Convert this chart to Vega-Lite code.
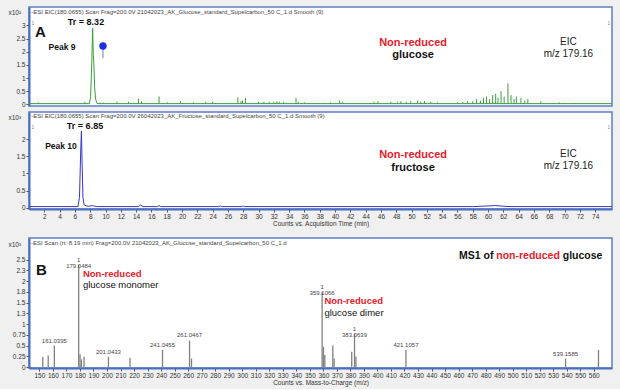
{
  "$schema": "https://vega.github.io/schema/vega-lite/v6.json",
  "background": "#f0f0f0",
  "padding": {"left": 7, "top": 6, "right": 6, "bottom": 2},
  "config": {
    "font": "Liberation Sans",
    "view": {"stroke": "#5b7fc7", "strokeWidth": 1.5, "fill": "white"},
    "axis": {"labelFont": "Liberation Sans", "labelFontSize": 6.5, "labelColor": "#333", "tickColor": "#555", "tickSize": 3, "labelPadding": 1, "domainColor": "#4a6fc0", "domainWidth": 2, "grid": false, "titleFont": "Liberation Sans", "titleFontSize": 6.5, "titleFontWeight": "normal", "titleColor": "#333", "titlePadding": 1, "format": "~r"},
    "text": {"font": "Liberation Sans"}
  },
  "spacing": 9,
  "vconcat": [
    {
      "spacing": 2,
      "vconcat": [
        {
          "width": 583,
          "height": 99,
          "encoding": {
            "x": {"field": "t", "type": "quantitative", "scale": {"domain": [0, 76.2], "nice": false, "zero": false}, "axis": null},
            "y": {"field": "v", "type": "quantitative", "scale": {"domain": [-0.06, 3.7], "nice": false, "zero": false}, "axis": {"values": [0, 0.5, 1, 1.5, 2, 2.5, 3], "title": "x10²", "titleAngle": 0, "titleX": -21, "titleY": 5, "titleAlign": "left", "titleBaseline": "middle"}}
          },
          "layer": [
            {
              "data": {"values": [{"t": 0.3, "v": 3.51, "label": "-ESI EIC(180.0655) Scan Frag=200.0V 21042023_AK_Glucose_standard_Supelcarbon_50 C_1.d  Smooth (9)"}]},
              "mark": {"type": "text", "align": "left", "baseline": "middle", "fontSize": 6, "color": "#444"},
              "encoding": {"text": {"field": "label"}}
            },
            {
              "data": {"values": [{"t": 0.52, "v": 3.08, "label": "1"}, {"t": 75.8, "v": 3.08, "label": "1"}]},
              "mark": {"type": "text", "align": "center", "baseline": "middle", "fontSize": 5, "color": "#888"},
              "encoding": {"text": {"field": "label"}}
            },
            {
              "data": {"values": [
                {"t": 1.2, "v": 0.08}, {"t": 7.3, "v": 0.1}, {"t": 9.3, "v": 0.07}, {"t": 9.7, "v": 0.07}, {"t": 11.5, "v": 0.1}, {"t": 13.0, "v": 0.1}, {"t": 14.3, "v": 0.22}, {"t": 14.7, "v": 0.12}, {"t": 17.0, "v": 0.3}, {"t": 18.1, "v": 0.08}, {"t": 19.8, "v": 0.12}, {"t": 20.1, "v": 0.06}, {"t": 21.5, "v": 0.08}, {"t": 23.1, "v": 0.1}, {"t": 24.0, "v": 0.1}, {"t": 27.3, "v": 0.26}, {"t": 27.7, "v": 0.12}, {"t": 27.9, "v": 0.15}, {"t": 28.3, "v": 0.25}, {"t": 30.0, "v": 0.1}, {"t": 30.7, "v": 0.1}, {"t": 31.4, "v": 0.1}, {"t": 32.0, "v": 0.1}, {"t": 32.4, "v": 0.12}, {"t": 32.7, "v": 0.1}, {"t": 33.3, "v": 0.1}, {"t": 34.9, "v": 0.25}, {"t": 35.2, "v": 0.1}, {"t": 36.0, "v": 0.08},
                {"t": 37.3, "v": 0.06}, {"t": 37.9, "v": 0.05}, {"t": 38.6, "v": 0.06}, {"t": 39.4, "v": 0.08}, {"t": 40.6, "v": 0.15}, {"t": 41.0, "v": 0.1}, {"t": 42.5, "v": 0.05}, {"t": 44.5, "v": 0.06}, {"t": 45.1, "v": 0.1}, {"t": 45.6, "v": 0.12}, {"t": 47.3, "v": 0.1}, {"t": 48.2, "v": 0.1}, {"t": 48.6, "v": 0.12}, {"t": 49.3, "v": 0.1}, {"t": 49.9, "v": 0.12}, {"t": 50.8, "v": 0.15}, {"t": 51.2, "v": 0.1}, {"t": 51.7, "v": 0.13}, {"t": 52.5, "v": 0.1}, {"t": 53.4, "v": 0.08}, {"t": 54.7, "v": 0.05}, {"t": 56.0, "v": 0.08}, {"t": 56.7, "v": 0.1}, {"t": 57.3, "v": 0.12}, {"t": 58.0, "v": 0.12}, {"t": 58.5, "v": 0.2}, {"t": 59.0, "v": 0.15}, {"t": 59.4, "v": 0.25}, {"t": 59.8, "v": 0.3}, {"t": 60.2, "v": 0.2}, {"t": 60.6, "v": 0.35}, {"t": 61.0, "v": 0.4}, {"t": 61.3, "v": 0.25}, {"t": 61.7, "v": 0.5}, {"t": 62.1, "v": 0.3}, {"t": 62.6, "v": 0.8}, {"t": 63.0, "v": 0.35}, {"t": 63.4, "v": 0.2}, {"t": 63.7, "v": 0.3}, {"t": 64.3, "v": 0.25}, {"t": 64.8, "v": 0.15}, {"t": 65.2, "v": 0.2}, {"t": 66.9, "v": 0.12}, {"t": 69.3, "v": 0.08}, {"t": 70.0, "v": 0.06}, {"t": 71.3, "v": 0.06}, {"t": 73.0, "v": 0.05}
              ]},
              "mark": {"type": "rule", "color": "#3a9d3a", "strokeWidth": 1},
              "encoding": {"y2": {"datum": 0.03}}
            },
            {
              "data": {"values": [
                {"t": 0, "v": 0.03}, {"t": 7.9, "v": 0.03}, {"t": 8.05, "v": 0.3}, {"t": 8.2, "v": 1.5}, {"t": 8.32, "v": 2.9}, {"t": 8.4, "v": 1.9}, {"t": 8.47, "v": 1.6}, {"t": 8.57, "v": 0.7}, {"t": 8.7, "v": 0.2}, {"t": 8.9, "v": 0.03}, {"t": 76.2, "v": 0.03}
              ]},
              "mark": {"type": "line", "color": "#3a9d3a", "strokeWidth": 1}
            },
            {
              "data": {"values": [{"t": 9.67, "v": 2.22, "v2": 1.76}]},
              "mark": {"type": "rule", "color": "#6a7fb0", "strokeWidth": 1},
              "encoding": {"y2": {"field": "v2"}}
            },
            {
              "data": {"values": [{"t": 9.67, "v": 2.22}]},
              "mark": {"type": "point", "filled": true, "color": "#1f2fe0", "size": 55, "opacity": 1}
            },
            {
              "data": {"values": [{"t": 0.78, "v": 2.75, "label": "A"}]},
              "mark": {"type": "text", "align": "left", "baseline": "middle", "fontSize": 15, "fontWeight": "bold", "color": "#111"},
              "encoding": {"text": {"field": "label"}}
            },
            {
              "data": {"values": [{"t": 7.45, "v": 3.13, "label": "Tr = 8.32"}]},
              "mark": {"type": "text", "align": "center", "baseline": "middle", "fontSize": 9, "fontWeight": "bold", "color": "#111"},
              "encoding": {"text": {"field": "label"}}
            },
            {
              "data": {"values": [{"t": 4.31, "v": 2.18, "label": "Peak 9"}]},
              "mark": {"type": "text", "align": "center", "baseline": "middle", "fontSize": 8.5, "fontWeight": "bold", "color": "#111"},
              "encoding": {"text": {"field": "label"}}
            },
            {
              "data": {"values": [{"t": 50.2, "v": 2.33, "label": "Non-reduced"}]},
              "mark": {"type": "text", "align": "center", "baseline": "middle", "fontSize": 11, "fontWeight": "bold", "color": "#e8202a"},
              "encoding": {"text": {"field": "label"}}
            },
            {
              "data": {"values": [{"t": 50.2, "v": 1.86, "label": "glucose"}]},
              "mark": {"type": "text", "align": "center", "baseline": "middle", "fontSize": 11, "fontWeight": "bold", "color": "#111"},
              "encoding": {"text": {"field": "label"}}
            },
            {
              "data": {"values": [{"t": 70.5, "v": 2.37, "label": "EIC"}, {"t": 70.5, "v": 1.92, "label": "m/z 179.16"}]},
              "mark": {"type": "text", "align": "center", "baseline": "middle", "fontSize": 10, "color": "#222"},
              "encoding": {"text": {"field": "label"}}
            }
          ]
        },
        {
          "width": 583,
          "height": 97,
          "encoding": {
            "x": {"field": "t", "type": "quantitative", "scale": {"domain": [0, 76.2], "nice": false, "zero": false}, "axis": {"values": [2, 4, 6, 8, 10, 12, 14, 16, 18, 20, 22, 24, 26, 28, 30, 32, 34, 36, 38, 40, 42, 44, 46, 48, 50, 52, 54, 56, 58, 60, 62, 64, 66, 68, 70, 72, 74], "title": "Counts vs. Acquisition Time (min)"}},
            "y": {"field": "v", "type": "quantitative", "scale": {"domain": [-0.04, 2.8], "nice": false, "zero": false}, "axis": {"values": [0, 0.5, 1, 1.5, 2], "title": "x10³", "titleAngle": 0, "titleX": -21, "titleY": 5, "titleAlign": "left", "titleBaseline": "middle"}}
          },
          "layer": [
            {
              "data": {"values": [{"t": 0.3, "v": 2.68, "label": "-ESI EIC(180.0655) Scan Frag=200.0V 26042023_AK_Fructose_standard_Supelcarbon_50 C_1.d  Smooth (9)"}]},
              "mark": {"type": "text", "align": "left", "baseline": "middle", "fontSize": 6, "color": "#444"},
              "encoding": {"text": {"field": "label"}}
            },
            {
              "data": {"values": [{"t": 0.52, "v": 2.36, "label": "1"}, {"t": 75.8, "v": 2.36, "label": "1"}]},
              "mark": {"type": "text", "align": "center", "baseline": "middle", "fontSize": 5, "color": "#888"},
              "encoding": {"text": {"field": "label"}}
            },
            {
              "data": {"values": [
                {"t": 0, "v": 0.03}, {"t": 6.4, "v": 0.03}, {"t": 6.6, "v": 0.3}, {"t": 6.75, "v": 1.6}, {"t": 6.85, "v": 2.24}, {"t": 6.95, "v": 1.2}, {"t": 7.05, "v": 0.3}, {"t": 7.2, "v": 0.08}, {"t": 7.5, "v": 0.05}, {"t": 7.8, "v": 0.04}, {"t": 8.3, "v": 0.06}, {"t": 8.6, "v": 0.04}, {"t": 9.0, "v": 0.03}, {"t": 14.3, "v": 0.03}, {"t": 14.6, "v": 0.08}, {"t": 14.9, "v": 0.03}, {"t": 16.8, "v": 0.03}, {"t": 17.0, "v": 0.06}, {"t": 17.2, "v": 0.03}, {"t": 24.8, "v": 0.03}, {"t": 25.0, "v": 0.05}, {"t": 25.2, "v": 0.03}, {"t": 27.8, "v": 0.03}, {"t": 28.0, "v": 0.045}, {"t": 28.2, "v": 0.03}, {"t": 58.0, "v": 0.03}, {"t": 60.0, "v": 0.05}, {"t": 61.0, "v": 0.06}, {"t": 62.0, "v": 0.04}, {"t": 63.0, "v": 0.03}, {"t": 76.2, "v": 0.03}
              ]},
              "mark": {"type": "line", "color": "#3535c8", "strokeWidth": 1}
            },
            {
              "data": {"values": [{"t": 7.32, "v": 2.39, "label": "Tr = 6.85"}]},
              "mark": {"type": "text", "align": "center", "baseline": "middle", "fontSize": 9, "fontWeight": "bold", "color": "#111"},
              "encoding": {"text": {"field": "label"}}
            },
            {
              "data": {"values": [{"t": 4.18, "v": 1.8, "label": "Peak 10"}]},
              "mark": {"type": "text", "align": "center", "baseline": "middle", "fontSize": 8.5, "fontWeight": "bold", "color": "#111"},
              "encoding": {"text": {"field": "label"}}
            },
            {
              "data": {"values": [{"t": 50.2, "v": 1.54, "label": "Non-reduced"}]},
              "mark": {"type": "text", "align": "center", "baseline": "middle", "fontSize": 11, "fontWeight": "bold", "color": "#e8202a"},
              "encoding": {"text": {"field": "label"}}
            },
            {
              "data": {"values": [{"t": 50.2, "v": 1.16, "label": "fructose"}]},
              "mark": {"type": "text", "align": "center", "baseline": "middle", "fontSize": 11, "fontWeight": "bold", "color": "#111"},
              "encoding": {"text": {"field": "label"}}
            },
            {
              "data": {"values": [{"t": 70.5, "v": 1.57, "label": "EIC"}, {"t": 70.5, "v": 1.23, "label": "m/z 179.16"}]},
              "mark": {"type": "text", "align": "center", "baseline": "middle", "fontSize": 10, "color": "#222"},
              "encoding": {"text": {"field": "label"}}
            }
          ]
        }
      ]
    },
    {
      "width": 583,
      "height": 130,
      "encoding": {
        "x": {"field": "mz", "type": "quantitative", "scale": {"domain": [142.3, 573.5], "nice": false, "zero": false}, "axis": {"values": [150, 160, 170, 180, 190, 200, 210, 220, 230, 240, 250, 260, 270, 280, 290, 300, 310, 320, 330, 340, 350, 360, 370, 380, 390, 400, 410, 420, 430, 440, 450, 460, 470, 480, 490, 500, 510, 520, 530, 540, 550, 560], "format": "d", "title": "Counts vs. Mass-to-Charge (m/z)"}},
        "y": {"field": "v", "type": "quantitative", "scale": {"domain": [-0.02, 3.0], "nice": false, "zero": false}, "axis": {"values": [0, 0.25, 0.5, 0.75, 1, 1.25, 1.5, 1.75, 2, 2.25, 2.5], "title": "x10³", "titleAngle": 0, "titleX": -21, "titleY": 6, "titleAlign": "left", "titleBaseline": "middle"}}
      },
      "layer": [
        {
          "data": {"values": [{"mz": 143.8, "v": 2.88, "label": "-ESI Scan (rt: 8.19 min) Frag=200.0V 21042023_AK_Glucose_standard_Supelcarbon_50 C_1.d"}]},
          "mark": {"type": "text", "align": "left", "baseline": "middle", "fontSize": 6, "color": "#444"},
          "encoding": {"text": {"field": "label"}}
        },
        {
          "data": {"name": "peaks", "values": [
            {"mz": 152.5, "v": 0.24, "label": ""},
            {"mz": 156.5, "v": 0.27, "label": ""},
            {"mz": 161.0395, "v": 0.5, "label": "161.0395"},
            {"mz": 179.0484, "v": 2.38, "label": "1\n179.0484"},
            {"mz": 180.05, "v": 0.3, "label": ""},
            {"mz": 181.05, "v": 0.18, "label": ""},
            {"mz": 183.0, "v": 0.24, "label": ""},
            {"mz": 201.0433, "v": 0.24, "label": "201.0433"},
            {"mz": 217.0, "v": 0.22, "label": ""},
            {"mz": 241.0455, "v": 0.4, "label": "241.0455"},
            {"mz": 261.0467, "v": 0.62, "label": "261.0467"},
            {"mz": 262.5, "v": 0.2, "label": ""},
            {"mz": 359.1066, "v": 1.75, "label": "1\n359.1066"},
            {"mz": 360.1, "v": 0.47, "label": ""},
            {"mz": 361.1, "v": 0.28, "label": ""},
            {"mz": 367.0, "v": 0.5, "label": ""},
            {"mz": 368.0, "v": 0.2, "label": ""},
            {"mz": 381.0, "v": 0.36, "label": ""},
            {"mz": 383.0639, "v": 0.78, "label": "1\n383.0639"},
            {"mz": 384.1, "v": 0.25, "label": ""},
            {"mz": 421.1057, "v": 0.4, "label": "421.1057"},
            {"mz": 539.1585, "v": 0.2, "label": "539.1585"},
            {"mz": 563.5, "v": 0.4, "label": ""}
          ]},
          "layer": [
            {
              "mark": {"type": "rule", "color": "#808080", "strokeWidth": 1.3},
              "encoding": {"y2": {"datum": 0}}
            },
            {
              "transform": [{"filter": "datum.label != ''"}],
              "mark": {"type": "text", "align": "center", "baseline": "bottom", "dy": -2, "fontSize": 6, "lineHeight": 6.5, "lineBreak": "\n", "color": "#444"},
              "encoding": {"text": {"field": "label"}}
            }
          ]
        },
        {
          "data": {"values": [{"mz": 147.5, "v": 2.26, "label": "B"}]},
          "mark": {"type": "text", "align": "left", "baseline": "middle", "fontSize": 15, "fontWeight": "bold", "color": "#111"},
          "encoding": {"text": {"field": "label"}}
        },
        {
          "data": {"values": [{"mz": 182.2, "v": 2.16, "label": "Non-reduced"}, {"mz": 360.8, "v": 1.54, "label": "Non-reduced"}]},
          "mark": {"type": "text", "align": "left", "baseline": "middle", "fontSize": 9.5, "fontWeight": "bold", "color": "#e8202a"},
          "encoding": {"text": {"field": "label"}}
        },
        {
          "data": {"values": [{"mz": 182.2, "v": 1.9, "label": "glucose monomer"}, {"mz": 360.8, "v": 1.26, "label": "glucose dimer"}]},
          "mark": {"type": "text", "align": "left", "baseline": "middle", "fontSize": 9.5, "color": "#111"},
          "encoding": {"text": {"field": "label"}}
        },
        {
          "data": {"values": [{"mz": 460.4, "v": 2.58, "label": "MS1 of"}, {"mz": 537.1, "v": 2.58, "label": "glucose"}]},
          "mark": {"type": "text", "align": "left", "baseline": "middle", "fontSize": 10.5, "fontWeight": "bold", "color": "#111"},
          "encoding": {"text": {"field": "label"}}
        },
        {
          "data": {"values": [{"mz": 487.9, "v": 2.58, "label": "non-reduced"}]},
          "mark": {"type": "text", "align": "left", "baseline": "middle", "fontSize": 10.5, "fontWeight": "bold", "color": "#e8202a"},
          "encoding": {"text": {"field": "label"}}
        }
      ]
    }
  ]
}
